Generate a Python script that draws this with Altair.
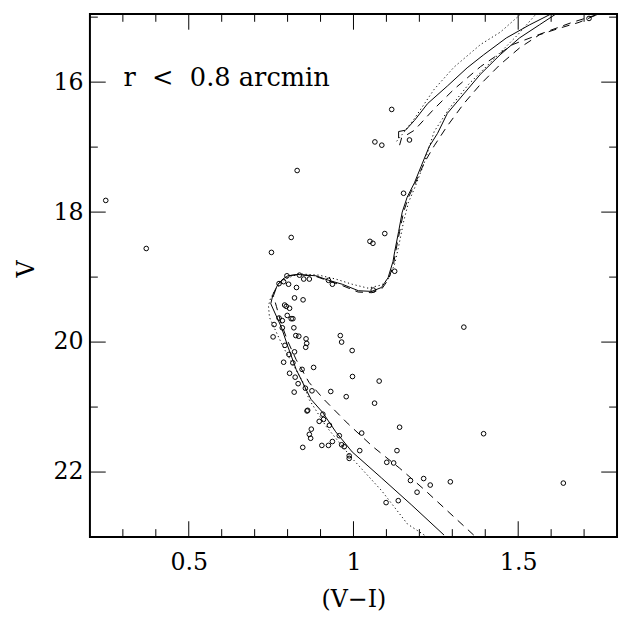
import altair as alt
import pandas as pd

# ---------------- data ----------------
star_vi = [0.248, 0.371, 0.829, 1.116, 1.065, 1.086, 1.170, 1.152, 1.095, 1.050,
           1.059, 1.125, 0.751, 0.811, 1.335, 1.395, 1.637, 1.715, 0.798, 0.774,
           0.788, 0.803, 0.836, 0.849, 0.866, 0.924, 0.936, 1.060, 0.827, 0.821,
           0.847, 0.791, 0.796, 0.806, 0.799, 0.774, 0.811, 0.816, 0.784, 0.759,
           0.784, 0.819, 0.756, 0.825, 0.834, 0.856, 0.858, 0.855, 0.960, 0.964,
           0.996, 0.792, 0.804, 0.821, 0.788, 0.816, 0.879, 0.844, 0.806, 0.823,
           0.832, 0.997, 1.078, 0.854, 0.874, 0.820, 0.931, 0.978, 1.064, 0.859,
           0.861, 0.907, 0.896, 0.909, 0.927, 0.872, 0.866, 0.870, 0.846, 0.904,
           0.924, 0.936, 0.957, 0.964, 0.972, 1.025, 1.140, 1.019, 0.987, 0.987,
           1.132, 1.101, 1.122, 1.173, 1.213, 1.233, 1.294, 1.193, 1.099, 1.136]
star_v = [17.82, 18.56, 17.36, 16.42, 16.92, 16.97, 16.89, 17.71, 18.33, 18.45,
          18.48, 18.91, 18.62, 18.39, 19.77, 21.41, 22.17, 15.02, 18.98, 19.10,
          19.07, 19.11, 18.97, 19.03, 19.03, 19.05, 19.11, 19.20, 19.16, 19.32,
          19.35, 19.43, 19.45, 19.48, 19.59, 19.63, 19.64, 19.64, 19.67, 19.73,
          19.78, 19.78, 19.92, 19.90, 19.91, 19.95, 20.02, 20.08, 19.90, 20.00,
          20.13, 20.05, 20.19, 20.15, 20.31, 20.32, 20.39, 20.42, 20.48, 20.54,
          20.64, 20.53, 20.60, 20.71, 20.75, 20.77, 20.76, 20.84, 20.94, 21.06,
          21.05, 21.11, 21.22, 21.19, 21.28, 21.34, 21.42, 21.48, 21.62, 21.59,
          21.59, 21.53, 21.44, 21.58, 21.61, 21.40, 21.31, 21.67, 21.75, 21.79,
          21.67, 21.85, 21.86, 22.13, 22.10, 22.20, 22.15, 22.31, 22.47, 22.44]

solid_main_vi = [1.275, 1.175, 1.085, 0.996, 0.946, 0.906, 0.871, 0.826, 0.801, 0.781,
                 0.756, 0.749, 0.756, 0.771, 0.786, 0.801, 0.831, 0.886, 0.925, 0.966,
                 1.015, 1.055, 1.085, 1.105, 1.120, 1.125, 1.137, 1.148, 1.163, 1.185,
                 1.205, 1.230, 1.255, 1.285, 1.335, 1.385, 1.445, 1.504, 1.564, 1.624]
solid_main_v = [22.97, 22.50, 22.09, 21.69, 21.38, 21.08, 20.88, 20.42, 20.07, 19.77,
                19.49, 19.41, 19.26, 19.11, 19.03, 18.98, 18.96, 18.98, 19.05, 19.11,
                19.21, 19.22, 19.16, 19.01, 18.76, 18.61, 18.30, 18.00, 17.77, 17.55,
                17.30, 16.99, 16.79, 16.48, 16.18, 15.88, 15.58, 15.32, 15.12, 14.92]
solid_agb_vi = [1.137, 1.137, 1.158, 1.185, 1.225, 1.285, 1.345, 1.395, 1.464, 1.534, 1.604, 1.624]
solid_agb_v = [16.86, 16.76, 16.74, 16.59, 16.33, 16.06, 15.78, 15.58, 15.32, 15.12, 14.94, 14.92]

dashed_main_vi = [1.365, 1.290, 1.215, 1.140, 1.059, 0.984, 0.910, 0.865, 0.826, 0.799,
                  0.778, 0.766, 0.757, 0.769, 0.787, 0.802, 0.832, 0.886, 0.925, 0.966,
                  1.014, 1.056, 1.086, 1.107, 1.122, 1.128, 1.140, 1.152, 1.167, 1.188,
                  1.215, 1.245, 1.284, 1.335, 1.386, 1.445, 1.505, 1.565, 1.625, 1.685, 1.763]
dashed_main_v = [22.97, 22.62, 22.27, 21.94, 21.61, 21.26, 20.88, 20.62, 20.27, 19.97,
                 19.67, 19.45, 19.29, 19.12, 19.03, 18.98, 18.96, 18.99, 19.06, 19.13,
                 19.23, 19.24, 19.18, 19.03, 18.79, 18.61, 18.30, 18.00, 17.77, 17.55,
                 17.24, 16.98, 16.68, 16.33, 16.03, 15.73, 15.47, 15.27, 15.17, 15.08, 14.91]
dashed_agb_vi = [1.140, 1.146, 1.185, 1.245, 1.305, 1.386, 1.484, 1.583, 1.664, 1.715, 1.784]
dashed_agb_v = [16.97, 16.86, 16.74, 16.41, 16.11, 15.76, 15.42, 15.23, 15.08, 15.00, 14.89]

dotted_main_vi = [1.215, 1.164, 1.086, 0.996, 0.916, 0.865, 0.847, 0.787, 0.745, 0.742,
                  0.748, 0.766, 0.796, 0.835, 0.895, 0.946, 0.996, 1.044, 1.086, 1.107,
                  1.125, 1.137, 1.152, 1.167, 1.188, 1.215, 1.245, 1.290, 1.350, 1.425,
                  1.499, 1.565]
dotted_main_v = [22.97, 22.80, 22.29, 21.79, 21.29, 20.88, 20.62, 20.08, 19.62, 19.44,
                 19.33, 19.17, 19.02, 18.95, 18.97, 19.03, 19.11, 19.17, 19.12, 19.02,
                 18.80, 18.53, 18.15, 17.85, 17.60, 17.24, 16.76, 16.41, 16.03, 15.65,
                 15.27, 14.89]
dotted_agb_vi = [1.131, 1.155, 1.185, 1.245, 1.305, 1.386, 1.446, 1.493, 1.523]
dotted_agb_v = [16.91, 16.76, 16.56, 16.11, 15.77, 15.42, 15.23, 15.02, 14.89]

x_major = [0.5, 1.0, 1.5]
x_minor = [0.3, 0.4, 0.6, 0.7, 0.8, 0.9, 1.1, 1.2, 1.3, 1.4, 1.6, 1.7]
y_major = [16, 18, 20, 22]
y_minor = [15, 17, 19, 21]

annotation = "r\u00a0\u00a0<\u00a0\u00a00.8\u00a0arcmin"
x_title = "(V\u2212I)"
y_title = "V"

# ---------------- build ----------------
W, H = 534, 530
FONT = "DejaVu Serif"
MAJ, MIN = 16, 8

stars = pd.DataFrame({"vi": star_vi, "v": star_v})

segments = [
    ("solid", "main", solid_main_vi, solid_main_v),
    ("solid", "agb", solid_agb_vi, solid_agb_v),
    ("dashed", "main", dashed_main_vi, dashed_main_v),
    ("dashed", "agb", dashed_agb_vi, dashed_agb_v),
    ("dotted", "main", dotted_main_vi, dotted_main_v),
    ("dotted", "agb", dotted_agb_vi, dotted_agb_v),
]
rows = []
for style, seg, xs, ys in segments:
    for i, (a, b) in enumerate(zip(xs, ys)):
        rows.append({"style": style, "seg": seg, "vi": a, "v": b, "i": i})
lines = pd.DataFrame(rows)

xscale = alt.Scale(domain=[0.2, 1.8], nice=False, zero=False)
yscale = alt.Scale(domain=[14.95, 23], reverse=True, nice=False, zero=False)

xaxis = alt.Axis(values=x_major, format="~g", ticks=False, tickSize=0, domain=False,
                 grid=False, labelFont=FONT, labelFontSize=24, labelColor="black",
                 labelPadding=14, title=x_title, titleFont=FONT, titleFontSize=24,
                 titleFontWeight="normal", titleColor="black", titleX=W / 2, titleY=63,
                 titleBaseline="middle", titleAlign="center")
yaxis = alt.Axis(values=y_major, format="~g", ticks=False, tickSize=0, domain=False,
                 grid=False, labelFont=FONT, labelFontSize=24, labelColor="black",
                 labelPadding=7, title=y_title, titleFont=FONT, titleFontSize=24,
                 titleFontWeight="normal", titleColor="black", titleX=-64, titleY=258,
                 titleAngle=-90, titleBaseline="middle", titleAlign="center")

X = alt.X("vi:Q", scale=xscale, axis=xaxis)
Y = alt.Y("v:Q", scale=yscale, axis=yaxis)

layers = []

styles = {"solid": None, "dashed": [8, 6], "dotted": [1.2, 2.8]}
for st, dash in styles.items():
    kw = dict(color="black", strokeWidth=1, clip=True)
    if dash is not None:
        kw["strokeDash"] = dash
    layers.append(
        alt.Chart(lines[lines["style"] == st]).mark_line(**kw).encode(
            x=X, y=Y, detail="seg:N", order="i:Q")
    )

layers.append(
    alt.Chart(stars).mark_point(shape="circle", filled=False, size=22, color="black",
                                strokeWidth=1, opacity=1).encode(x=X, y=Y)
)

# tick marks (inward, on all four sides)
for vals, L in [(x_major, MAJ), (x_minor, MIN)]:
    d = pd.DataFrame({"vi": vals})
    layers.append(alt.Chart(d).mark_rule(color="black", strokeWidth=1).encode(
        x=X, y=alt.value(H), y2=alt.value(H - L)))
    layers.append(alt.Chart(d).mark_rule(color="black", strokeWidth=1).encode(
        x=X, y=alt.value(0), y2=alt.value(L)))
for vals, L in [(y_major, MAJ), (y_minor, MIN)]:
    d = pd.DataFrame({"v": vals})
    layers.append(alt.Chart(d).mark_rule(color="black", strokeWidth=1).encode(
        y=Y, x=alt.value(0), x2=alt.value(L)))
    layers.append(alt.Chart(d).mark_rule(color="black", strokeWidth=1).encode(
        y=Y, x=alt.value(W - L), x2=alt.value(W)))

layers.append(
    alt.Chart(pd.DataFrame({"t": [annotation]})).mark_text(
        font=FONT, fontSize=26, align="left", baseline="alphabetic", color="black"
    ).encode(text="t:N", x=alt.value(34), y=alt.value(73))
)

chart = alt.layer(*layers).properties(
    width=W, height=H,
    autosize=alt.AutoSizeParams(type="none"),
    padding={"left": 83, "top": 2, "right": 2, "bottom": 75},
    background="white",
).configure_view(stroke="black", strokeWidth=2)

chart.save("out.html", embed_options={"renderer": "svg", "actions": False})
